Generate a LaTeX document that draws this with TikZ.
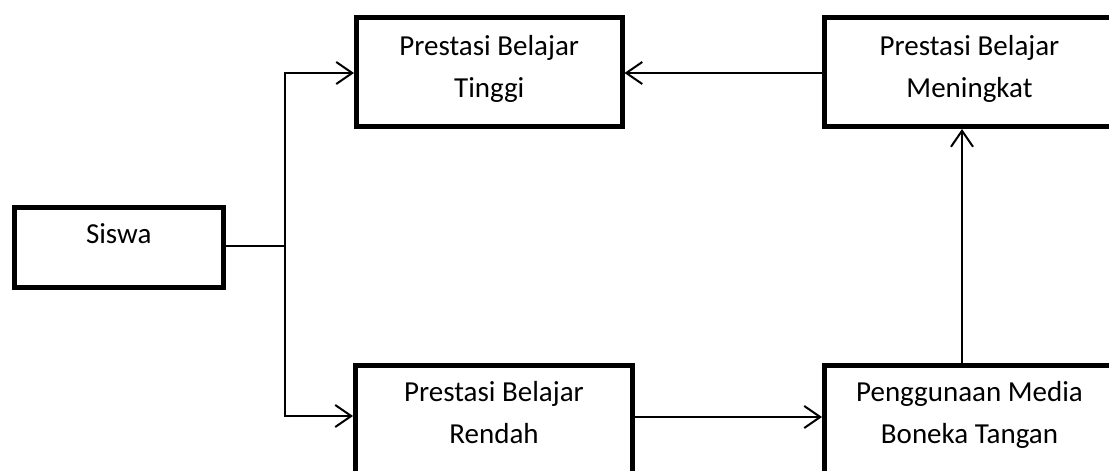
\documentclass[tikz,border=0pt]{standalone}
\usepackage{fontspec}
\setmainfont{Carlito}
\usetikzlibrary{arrows.meta}
\tikzset{
  box/.style={draw=black, line width=5pt, rectangle, inner sep=0pt, fill=white},
  lbl/.style={align=center, inner sep=0pt, font=\fontsize{29}{41.5}\selectfont, anchor=base},
  conn/.style={draw=black, line width=2pt},
  arr/.style={conn, -{Straight Barb[length=16pt, width=22pt, line width=2pt]}}
}
\begin{document}
\begin{tikzpicture}[x=1pt, y=-1pt]
\clip (0,0) rectangle (1109,471);
\fill[white] (0,0) rectangle (1109,471);
% boxes
\node[box, minimum width=208.5pt, minimum height=80pt, anchor=north west] (siswa) at (12,205) {};
\node[box, minimum width=265.5pt, minimum height=109pt, anchor=north west] (tinggi) at (354,15) {};
\node[box, minimum width=290pt, minimum height=109pt, anchor=north west] (meningkat) at (822,15) {};
\node[box, minimum width=277pt, minimum height=130pt, anchor=north west] (rendah) at (353,363) {};
\node[box, minimum width=290pt, minimum height=130pt, anchor=north west] (media) at (822,363) {};
% texts (base anchor = baseline of the last line)
\node[lbl] (tsiswa) at ([yshift=-38pt]siswa.north) {Siswa};
\node[lbl] (ttinggi) at ([yshift=-82pt]tinggi.north) {Prestasi Belajar\\Tinggi};
\node[lbl] (tmeningkat) at ([yshift=-82pt]meningkat.north) {Prestasi Belajar\\Meningkat};
\node[lbl] (trendah) at ([yshift=-80pt]rendah.north) {Prestasi Belajar\\Rendah};
\node[lbl] (tmedia) at ([yshift=-80pt]media.north) {Penggunaan Media\\Boneka Tangan};
% connectors
\coordinate (j) at (285,246);
\draw[conn] (siswa.east |- j) -- (j);
\draw[arr] (j) |- (tinggi.west |- 0,73);
\draw[arr] (j) |- (rendah.west |- 0,416);
\draw[arr] (meningkat.west |- 0,73) -- (tinggi.east |- 0,73);
\draw[arr] (rendah.east |- 0,417) -- (media.west |- 0,417);
\draw[arr] (media.north -| 962,0) -- (meningkat.south -| 962,0);
\end{tikzpicture}
\end{document}
